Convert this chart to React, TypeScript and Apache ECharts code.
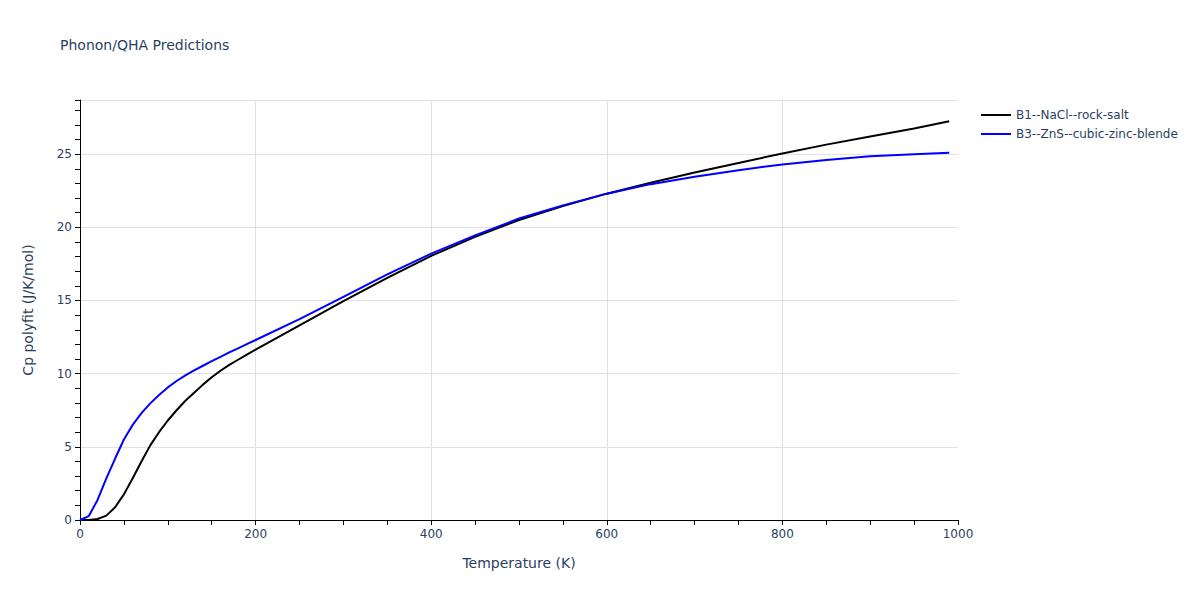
import { useEffect, useRef } from "react";
import * as echarts from "echarts";

const temps = [
  0, 10, 20, 30, 40, 50, 60, 70, 80, 90, 100, 110, 120, 130, 140, 150, 160, 170, 180, 190, 200,
  250, 300, 350, 400, 450, 500, 550, 600, 650, 700, 750, 800, 850, 900, 950, 990,
];

const rockSalt = [
  0, 0.0, 0.07, 0.3, 0.87, 1.75, 2.85, 4.0, 5.1, 6.0, 6.8, 7.5, 8.15, 8.7, 9.25, 9.75, 10.2, 10.6, 10.95, 11.3, 11.65,
  13.3, 14.96, 16.55, 18.05, 19.35, 20.5, 21.45, 22.3, 23.05, 23.75, 24.4, 25.05, 25.65, 26.2, 26.75, 27.25,
];

const zincBlende = [
  0, 0.27, 1.37, 2.85, 4.2, 5.5, 6.5, 7.3, 7.97, 8.54, 9.06, 9.5, 9.88, 10.22, 10.54, 10.85, 11.15, 11.45, 11.73, 12.02, 12.3,
  13.72, 15.25, 16.78, 18.2, 19.45, 20.6, 21.5, 22.3, 22.95, 23.45, 23.9, 24.3, 24.6, 24.85, 25.0, 25.1,
];

const seriesNames = ["B1--NaCl--rock-salt", "B3--ZnS--cubic-zinc-blende"];
const textColor = "#2a3f5f";
const font = "'DejaVu Sans', Verdana, sans-serif";

export default function App() {
  const ref = useRef<HTMLDivElement | null>(null);

  useEffect(() => {
    if (!ref.current) return;
    const chart = echarts.init(ref.current, undefined, { renderer: "svg" });
    chart.setOption({
      animation: false,
      backgroundColor: "#fff",
      textStyle: { fontFamily: font },
      title: {
        text: "Phonon/QHA Predictions",
        left: 55,
        top: 33,
        textStyle: { fontFamily: font, fontSize: 14, fontWeight: "normal", color: textColor },
      },
      legend: {
        orient: "vertical",
        left: 976,
        top: 104,
        icon: "rect",
        itemWidth: 30,
        itemHeight: 2,
        itemGap: 7,
        textStyle: { fontFamily: font, fontSize: 12, color: textColor },
        data: seriesNames,
      },
      grid: { left: 80, right: 242, top: 100, bottom: 80, containLabel: false },
      xAxis: {
        type: "value",
        min: 0,
        max: 1000,
        interval: 200,
        name: "Temperature (K)",
        nameLocation: "middle",
        nameGap: 36,
        nameTextStyle: { fontFamily: font, fontSize: 14, color: textColor },
        axisLine: { show: true, lineStyle: { color: "#000", width: 1 } },
        axisTick: { show: true, length: 5, lineStyle: { color: "#000" } },
        minorTick: { show: true, splitNumber: 4, length: 5, lineStyle: { color: "#000" } },
        axisLabel: { fontFamily: font, fontSize: 12, color: textColor, margin: 8, formatter: (v: number) => String(v) },
        splitLine: { show: true, lineStyle: { color: "#e1e1e1" }, showMinLine: false, showMaxLine: false },
      },
      yAxis: {
        type: "value",
        min: 0,
        max: 28.7,
        interval: 5,
        name: "Cp polyfit (J/K/mol)",
        nameLocation: "middle",
        nameGap: 45,
        nameTextStyle: { fontFamily: font, fontSize: 14, color: textColor },
        axisLine: { show: true, lineStyle: { color: "#000", width: 1 } },
        axisTick: { show: true, length: 5, lineStyle: { color: "#000" } },
        minorTick: { show: true, splitNumber: 5, length: 5, lineStyle: { color: "#000" } },
        axisLabel: { fontFamily: font, fontSize: 12, color: textColor, margin: 8, showMaxLabel: false },
        splitLine: { show: true, lineStyle: { color: "#e1e1e1" }, showMinLine: false },
      },
      series: [
        {
          name: seriesNames[0],
          type: "line",
          data: temps.map((t, i) => [t, rockSalt[i]]),
          symbol: "none",
          lineStyle: { color: "#000000", width: 2 },
          itemStyle: { color: "#000000" },
        },
        {
          name: seriesNames[1],
          type: "line",
          data: temps.map((t, i) => [t, zincBlende[i]]),
          symbol: "none",
          lineStyle: { color: "#0000ff", width: 2 },
          itemStyle: { color: "#0000ff" },
        },
      ],
    });
    return () => chart.dispose();
  }, []);

  return <div ref={ref} style={{ width: 1200, height: 600, margin: -8 }} />;
}
